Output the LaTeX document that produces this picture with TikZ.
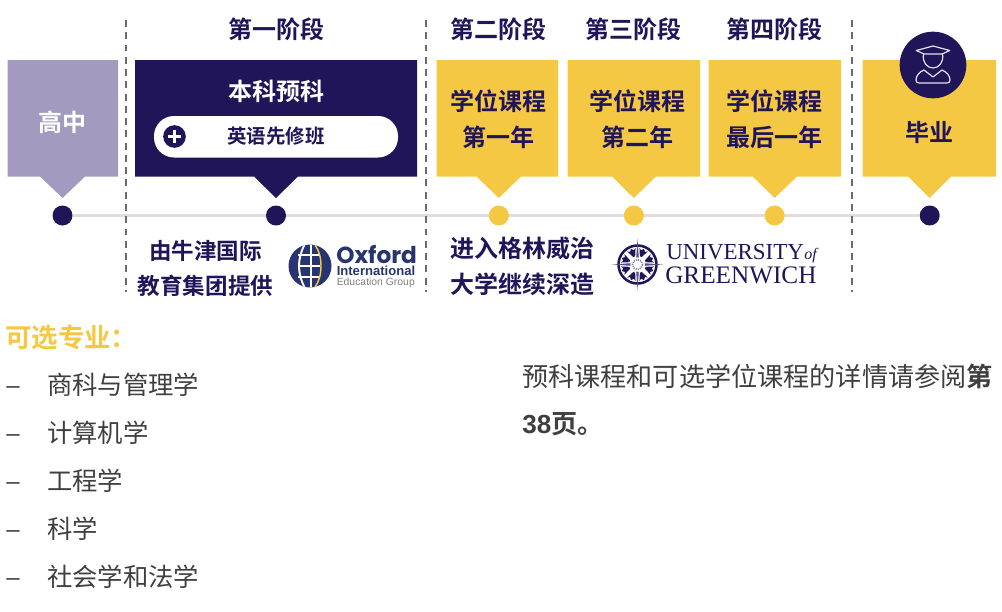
\documentclass[tikz,border=0pt]{standalone}
\usepackage{fontspec}
\usetikzlibrary{backgrounds}
\newfontfamily\cjk{Noto Sans CJK SC}
\newfontfamily\cjkb{Noto Sans CJK SC Bold}
\newfontfamily\lsans{Liberation Sans}
\newfontfamily\lserif{Liberation Serif}
\newfontfamily\pop{Poppins}
\definecolor{navy}{HTML}{1F1558}
\definecolor{gold}{HTML}{F4C842}
\definecolor{lav}{HTML}{A29BBF}
\definecolor{rule}{HTML}{E0DDDA}
\definecolor{dashc}{HTML}{6A6A6A}
\definecolor{body}{HTML}{3F3F3F}
\definecolor{oxblue}{HTML}{27346F}
\newcommand{\fs}[1]{\fontsize{#1}{#1}\selectfont}
\tikzset{
  x=0.75pt,y=-0.75pt,
  lab/.style={inner sep=0pt,outer sep=0pt,align=center,text=navy,font=\cjkb\fs{18}},
  whitelab/.style={lab,text=white},
  dot/.style={circle,inner sep=0pt,minimum size=15pt},
  navydot/.style={dot,fill=navy},
  golddot/.style={dot,fill=gold},
  phase/.style={dash pattern=on 5.2pt off 4pt,draw=dashc,line width=0.9pt},
  listitem/.style={inner sep=0pt,anchor=west,text=body,font=\cjk\fs{19}},
  dashitem/.style={inner sep=0pt,anchor=west,text=body,font=\lsans\fs{18}},
  bodytext/.style={inner sep=0pt,anchor=west,text=body,font=\cjk\fs{19.6}},
  iconline/.style={draw=white!88!navy,line width=0.9pt,line join=round,line cap=round},
}
\newcommand{\callout}[6]{% color,x1,x2,p1,p2,tip
  \fill[#1] (#2,60) -- (#3,60) -- (#3,176.5) -- (#5,176.5) -- (#6,198) -- (#4,176.5) -- (#2,176.5) -- cycle;
}
\begin{document}
\begin{tikzpicture}
\useasboundingbox (0,0) rectangle (1002,611);
% callouts
\callout{lav}{7.5}{118}{40}{85}{62.5}
\callout{navy}{135}{417}{254}{298}{276}
\callout{gold}{436.5}{558}{476.5}{521}{498.8}
\callout{gold}{567.5}{700}{612}{656}{633.8}
\callout{gold}{708.5}{841}{752.7}{797}{774.6}
\callout{gold}{862.5}{996}{908}{951}{929.7}
% phase separators
\coordinate (s1a) at (126,20); \coordinate (s1b) at (126,292);
\coordinate (s2a) at (426,20); \coordinate (s2b) at (426,292);
\coordinate (s3a) at (852,20); \coordinate (s3b) at (852,292);
\draw[phase] (s1a) -- (s1b);
\draw[phase] (s2a) -- (s2b);
\draw[phase] (s3a) -- (s3b);
% timeline
\node[navydot] (d1) at (62.5,215.5) {};
\node[navydot] (d2) at (276,215.5) {};
\node[golddot] (d3) at (498.8,215.5) {};
\node[golddot] (d4) at (633.8,215.5) {};
\node[golddot] (d5) at (774.6,215.5) {};
\node[navydot] (d6) at (929.7,215.5) {};
\begin{pgfonlayer}{background}
\draw[rule,line width=2.6pt] (d1) -- (d6);
\end{pgfonlayer}
% headings
\node[lab] (h1) at (276,29) {第一阶段};
\node[lab] (h2) at (498.5,29) {第二阶段};
\node[lab] (h3) at (633.5,29) {第三阶段};
\node[lab] (h4) at (774.5,29) {第四阶段};
% box text
\node[whitelab] (gz) at (62.5,122) {高中};
\node[whitelab] (pre) at (276,91) {本科预科};
\fill[white,rounded corners=15pt] (154,116) rectangle (398,157.5);
\node[circle,fill=navy,inner sep=0pt,minimum size=17pt] (plus) at (174.5,136.5) {};
\fill[white] (168,135) rectangle (181,138);
\fill[white] (173,130) rectangle (176,143);
\node[lab,font=\cjkb\fs{14.6}] (eng) at (276,136) {英语先修班};
\node[lab,align=center] (y1a) at (498.5,101) {学位课程};
\node[lab] (y1b) at (498.5,137) {第一年};
\node[lab] (y2a) at (637,101) {学位课程};
\node[lab] (y2b) at (637,137) {第二年};
\node[lab] (y3a) at (774.5,101) {学位课程};
\node[lab] (y3b) at (774.5,137) {最后一年};
\node[lab] (grad) at (929.5,132) {毕业};
% graduate icon
\node[circle,fill=navy,inner sep=0pt,minimum size=50pt] (icon) at (933,65) {};
\begin{scope}[shift={(933,65)}]
\draw[iconline] (-16.7,-14.5) -- (0,-19) -- (16.7,-14.5) -- (9,-11) -- (-9,-11) -- cycle;
\draw[iconline] (-9.5,-11) .. controls (-11,-3) and (-6,3) .. (0,3) .. controls (6,3) and (11,-3) .. (9.5,-11);
\draw[iconline] (-9,5) -- (0,12) -- (9,5) .. controls (14,7) and (17,11) .. (17,15) .. controls (17,17) and (16,18) .. (14,18) -- (-14,18) .. controls (-16,18) and (-17,17) .. (-17,15) .. controls (-17,11) and (-14,7) .. (-9,5) -- cycle;
\end{scope}
% below timeline left
\node[lab,font=\cjkb\fs{16.9}] (o1) at (205.5,251) {由牛津国际};
\node[lab,font=\cjkb\fs{16.9}] (o2) at (205.5,286) {教育集团提供};
% oxford logo
\begin{scope}
\coordinate (gc) at (310,266);
\fill[oxblue] (gc) circle[radius=21.5];
\begin{scope}
\clip (gc) circle[radius=21.5];
\foreach \yy in {255,266,277}{\fill[white] (298,\yy-0.9) rectangle (320,\yy+0.9);}
\fill[white] (310.2,244) rectangle (312,288);
\fill[white] (304,244) .. controls (296,258) and (296,274) .. (304,288) -- (306,288) .. controls (298,274) and (298,258) .. (306,244) -- cycle;
\end{scope}
\draw[gold,line width=1.1pt] (315,245) .. controls (323,255) and (323,277) .. (315,287);
\end{scope}
\node[inner sep=0pt,anchor=west,text=oxblue,font=\pop\bfseries\fs{17.4}] (ox1) at (336,254) {Oxford};
\node[inner sep=0pt,anchor=west,text=oxblue,font=\lsans\bfseries\fs{9.8}] (ox2) at (336.5,271) {International};
\node[inner sep=0pt,anchor=west,text=gray,font=\lsans\fs{7.8}] (ox3) at (336.5,283) {Education Group};
% below timeline right
\node[lab] (g1) at (522,248) {进入格林威治};
\node[lab] (g2) at (522,284) {大学继续深造};
% greenwich logo
\begin{scope}[shift={(637.5,264.5)}]
\draw[navy,line width=1.9pt] (0,0) circle[radius=19];
\foreach \a in {22.5,67.5,...,337.5}{
  \fill[navy,rotate=\a] (-1,-8.5) -- (1,-8.5) -- (4.5,-16) -- (2,-14.5) -- (0,-17) -- (-2,-14.5) -- (-4.5,-16) -- cycle;
}
\foreach \a in {0,90,180,270}{
  \fill[navy!75,rotate=\a] (-1.3,-7) -- (0,-25.5) -- (1.3,-7) -- cycle;
}
\fill[white] (0,0) circle[radius=7];
\draw[navy!55,line width=1.2pt,dash pattern=on 0.8pt off 0.8pt] (0,0) circle[radius=5];
\end{scope}
\node[inner sep=0pt,anchor=west,text=navy,font=\lserif\fs{17.2}] (gu) at (666,252.5) {UNIVERSITY};
\node[inner sep=0pt,anchor=west,text=navy,font=\lserif\itshape\fs{12}] (gof) at (804,256) {of};
\node[inner sep=0pt,anchor=west,text=navy,font=\lserif\fs{18.9}] (gg) at (665,275.5) {GREENWICH};
% lists
\node[inner sep=0pt,anchor=west,text=gold,font=\cjkb\fs{19.8}] (t) at (5,338) {可选专业：};
\node[dashitem] (b1) at (6,390) {–};
\node[dashitem] (b2) at (6,438) {–};
\node[dashitem] (b3) at (6,486) {–};
\node[dashitem] (b4) at (6,534) {–};
\node[dashitem] (b5) at (6,582) {–};
\node[listitem] (l1) at (47,385) {商科与管理学};
\node[listitem] (l2) at (47,433) {计算机学};
\node[listitem] (l3) at (47,481) {工程学};
\node[listitem] (l4) at (47,529) {科学};
\node[listitem] (l5) at (47,577) {社会学和法学};
\node[bodytext] (p1) at (522,376) {预科课程和可选学位课程的详情请参阅{\cjkb 第}};
\node[bodytext,font=\cjkb\fs{19.6}] (p2) at (522,424) {{\lsans\bfseries 38}页。};
\end{tikzpicture}
\end{document}
